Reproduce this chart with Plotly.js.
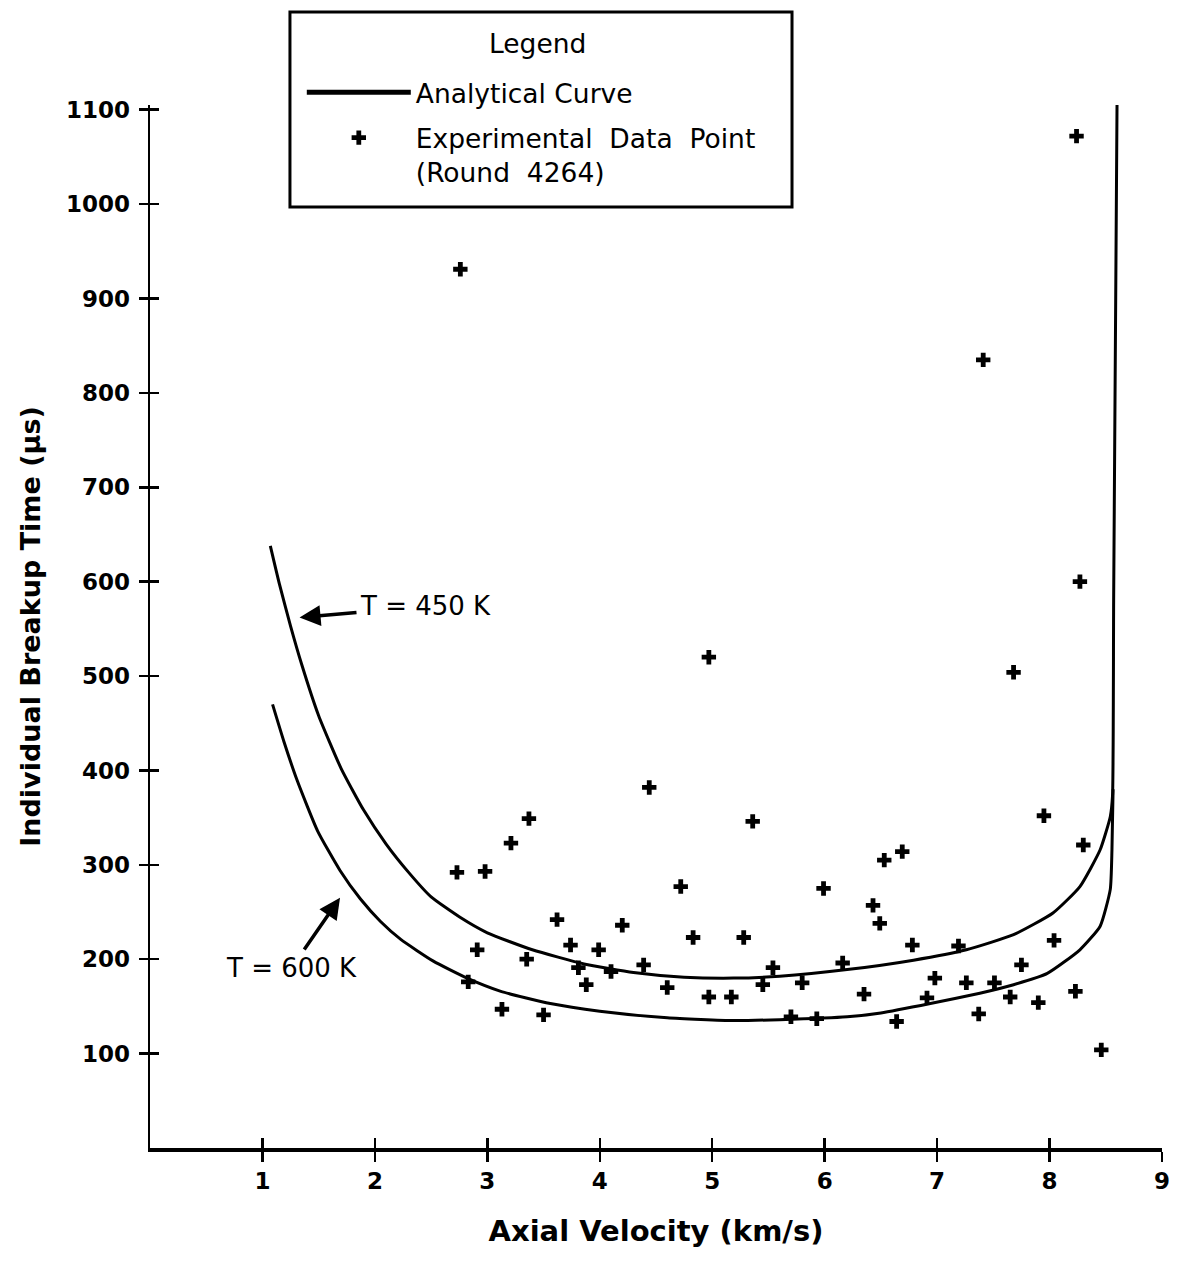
<!DOCTYPE html>
<html>
<head>
<meta charset="utf-8">
<script src="https://cdn.plot.ly/plotly-3.0.1.min.js"></script>
<style>
  html, body { margin: 0; padding: 0; background: #ffffff; }
  #chart { width: 1187px; height: 1264px; }
</style>
</head>
<body>
<div id="chart"></div>
<script>
// ---- Data ----
// Experimental data points (Round 4264): axial velocity (km/s), breakup time (µs)
const expX = [2.76, 8.24, 7.41, 4.97, 8.27, 7.68, 4.44, 3.37, 3.21, 2.73,
              2.98, 5.36, 7.95, 6.69, 6.53, 5.99, 4.72, 8.30, 6.43, 6.49,
              4.20, 3.62, 3.74, 3.99, 2.91, 3.35, 4.83, 5.28, 6.78, 7.19,
              8.04, 7.75, 6.16, 3.81, 4.10, 4.39, 5.54, 3.88, 2.83, 4.60,
              5.80, 5.45, 6.98, 7.26, 7.51, 4.97, 5.17, 6.35, 6.91, 7.65,
              7.90, 8.23, 3.13, 3.50, 5.70, 5.93, 6.64, 7.37, 8.46];
const expY = [931, 1072, 835, 520, 600, 504, 382, 349, 323, 292,
              293, 346, 352, 314, 305, 275, 277, 321, 257, 238,
              236, 242, 215, 210, 210, 200, 223, 223, 215, 214,
              220, 194, 196, 191, 187, 194, 191, 173, 176, 170,
              175, 173, 180, 175, 175, 160, 160, 163, 159, 160,
              154, 166, 147, 141, 139, 137, 134, 142, 104];

// Analytical curve, T = 450 K
const curve450X = [1.07, 1.15, 1.25, 1.35, 1.50, 1.70, 1.90, 2.10, 2.30, 2.50,
                   2.75, 3.00, 3.40, 3.86, 4.30, 4.75, 5.19, 5.60, 6.20, 6.79,
                   7.26, 7.68, 8.03, 8.27, 8.45, 8.54, 8.56, 8.57, 8.60];
const curve450Y = [638, 598, 553, 512, 458, 402, 358, 322, 292, 266,
                   245, 228, 210, 195, 186, 181, 180, 182, 189, 199,
                   210, 226, 249, 277, 316, 351, 373, 580, 1105];

// Analytical curve, T = 600 K
const curve600X = [1.09, 1.19, 1.31, 1.49, 1.69, 1.87, 2.05, 2.23, 2.52, 2.82,
                   3.12, 3.56, 4.00, 4.60, 5.19, 5.60, 6.20, 6.50, 6.94, 7.38,
                   7.68, 7.98, 8.27, 8.45, 8.54, 8.555, 8.565];
const curve600Y = [470, 431, 389, 336, 294, 264, 240, 221, 198, 180,
                   166, 153, 145, 138, 135, 136, 139, 143, 153, 164,
                   173, 185, 210, 235, 274, 316, 380];

// Axis ticks
const xTicks = [1, 2, 3, 4, 5, 6, 7, 8, 9];
const yTicks = [100, 200, 300, 400, 500, 600, 700, 800, 900, 1000, 1100];

// Curve labels: [label, head x, head y, text x, text y]
const label450 = ['T = 450 K', 1.33, 562, 2.45, 574];
const label600 = ['T = 600 K', 1.69, 265, 1.26, 191];

// Legend texts
const legendTitle = 'Legend';
const nameCurve = 'Analytical Curve';
const namePoints = 'Experimental  Data  Point<br>(Round  4264)';

// ---- Figure ----
const FONT = '"DejaVu Sans", "Liberation Sans", Arial, sans-serif';
const xRange = [0, 9];
const yRange = [0, 1105];

const traces = [
  {
    x: curve450X, y: curve450Y, type: 'scatter', mode: 'lines',
    name: nameCurve, legendgroup: 'curve',
    line: { color: '#000000', width: 3, shape: 'spline', smoothing: 0.5 },
    showlegend: true, hoverinfo: 'x+y'
  },
  {
    x: curve600X, y: curve600Y, type: 'scatter', mode: 'lines',
    xaxis: 'x2', yaxis: 'y2',
    name: 'Analytical Curve (T = 600 K)', legendgroup: 'curve',
    line: { color: '#000000', width: 3, shape: 'spline', smoothing: 0.5 },
    showlegend: false, hoverinfo: 'x+y'
  },
  {
    x: expX, y: expY, type: 'scatter', mode: 'markers',
    name: namePoints, legendgroup: 'points',
    marker: { symbol: 'cross', size: 12, color: '#000000' },
    showlegend: true, hoverinfo: 'x+y'
  }
];

function arrowAnn(lab) {
  return {
    text: lab[0], x: lab[1], y: lab[2], ax: lab[3], ay: lab[4],
    xref: 'x', yref: 'y', axref: 'x', ayref: 'y',
    showarrow: true, arrowhead: 2, arrowsize: 1.2, arrowwidth: 3.5,
    arrowcolor: '#000000', standoff: 0, startstandoff: 2,
    font: { family: FONT, size: 26, color: '#000000' }
  };
}

// legend frame geometry (paper fractions of the plot area)
const boxX0 = 0.1383, boxX1 = 0.6344, boxY0 = 0.9022, boxY1 = 1.0892;

const layout = {
  width: 1187, height: 1264,
  margin: { l: 150, r: 25, t: 105, b: 116 },
  paper_bgcolor: '#ffffff', plot_bgcolor: '#ffffff',
  font: { family: FONT, color: '#000000' },
  showlegend: true,
  legend: {
    x: 0.150, y: 1.035, xanchor: 'left', yanchor: 'top',
    bgcolor: 'rgba(0,0,0,0)', borderwidth: 0, valign: 'top',
    font: { family: FONT, size: 26.5, color: '#000000' },
    itemwidth: 104, tracegroupgap: 8, itemsizing: 'constant'
  },
  xaxis: {
    range: xRange, tickvals: xTicks, ticktext: xTicks.map(String),
    ticks: 'outside', ticklen: 10, tickwidth: 2.5, tickcolor: '#000000',
    showline: true, linecolor: '#000000', linewidth: 3.5,
    showgrid: false, zeroline: false, ticklabelstandoff: 0,
    tickfont: { family: FONT, size: 23, color: '#000000', weight: 'bold' },
    title: { text: '<b>Axial Velocity (km/s)</b>', standoff: 28,
             font: { family: FONT, size: 29, color: '#000000' } }
  },
  yaxis: {
    range: yRange, tickvals: yTicks, ticktext: yTicks.map(String),
    ticks: 'outside', ticklen: 9, tickwidth: 2.5, tickcolor: '#000000',
    showline: true, linecolor: '#000000', linewidth: 2.5,
    showgrid: false, zeroline: false, ticklabelstandoff: 4,
    tickfont: { family: FONT, size: 23, color: '#000000', weight: 'bold' },
    title: { text: '<b>Individual Breakup Time (µs)</b>', standoff: 18,
             font: { family: FONT, size: 27, color: '#000000' } }
  },
  xaxis2: {
    range: xRange, overlaying: 'x', anchor: 'y2', side: 'bottom',
    tickvals: xTicks, ticks: 'inside', ticklen: 10, tickwidth: 2.5, tickcolor: '#000000',
    showticklabels: false, showline: false, showgrid: false, zeroline: false
  },
  yaxis2: {
    range: yRange, overlaying: 'y', anchor: 'x2', side: 'left',
    tickvals: yTicks, ticks: 'inside', ticklen: 9, tickwidth: 2.5, tickcolor: '#000000',
    showticklabels: false, showline: false, showgrid: false, zeroline: false
  },
  shapes: [
    { type: 'rect', xref: 'paper', yref: 'paper',
      x0: boxX0, x1: boxX1, y0: boxY0, y1: boxY1,
      line: { color: '#000000', width: 3 }, fillcolor: 'rgba(0,0,0,0)', layer: 'below' }
  ],
  annotations: [
    arrowAnn(label450), arrowAnn(label600),
    { text: legendTitle, xref: 'paper', yref: 'paper', x: 0.3829, y: 1.0594,
      xanchor: 'center', yanchor: 'middle', showarrow: false,
      font: { family: FONT, size: 26.5, color: '#000000' } }
  ]
};

Plotly.newPlot('chart', traces, layout, { displayModeBar: false, staticPlot: true });
</script>
</body>
</html>
